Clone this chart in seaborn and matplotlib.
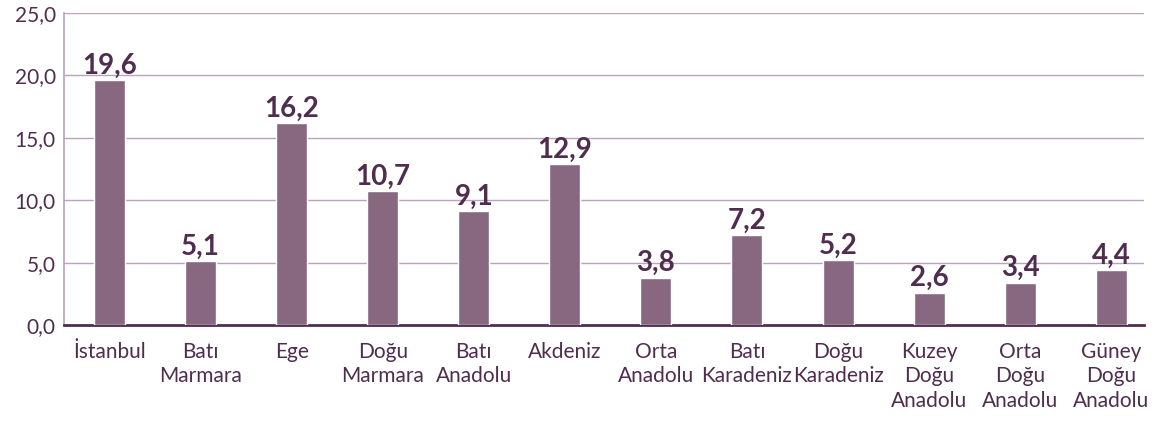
import matplotlib
matplotlib.use("Agg")
import matplotlib.pyplot as plt
import seaborn as sns
import pandas as pd

categories = ["İstanbul", "Batı\nMarmara", "Ege", "Doğu\nMarmara", "Batı\nAnadolu", "Akdeniz",
              "Orta\nAnadolu", "Batı\nKaradeniz", "Doğu\nKaradeniz", "Kuzey\nDoğu\nAnadolu",
              "Orta\nDoğu\nAnadolu", "Güney\nDoğu\nAnadolu"]
values = [19.6, 5.1, 16.2, 10.7, 9.1, 12.9, 3.8, 7.2, 5.2, 2.6, 3.4, 4.4]
yticks = [0, 5, 10, 15, 20, 25]

bar_color = "#876880"
text_color = "#4f2d4f"
grid_color = "#b9a3b9"

sns.set_theme(style="white")
plt.rcParams["font.family"] = ["Lato", "DejaVu Sans"]

df = pd.DataFrame({"cat": categories, "val": values})

fig = plt.figure(figsize=(11.64, 4.21), dpi=100)
W, H = 1164, 421
ax = fig.add_axes([64 / W, (H - 325) / H, (1144 - 64) / W, 312 / H])

sns.barplot(data=df, x="cat", y="val", color=bar_color, width=0.34, ax=ax, saturation=1, zorder=3)

ax.set_xlim(-0.5, 11.36)
ax.set_ylim(0, 25)
ax.set_yticks(yticks)
ax.set_yticklabels([f"{v:.1f}".replace(".", ",") for v in yticks], fontsize=15,
                   color=text_color)
ax.set_xticks(range(len(categories)))
ax.set_xticklabels(categories, fontsize=15, color=text_color, linespacing=1.3)
ax.set_xlabel("")
ax.set_ylabel("")
ax.tick_params(axis="both", length=0)
ax.tick_params(axis="y", pad=6)
ax.tick_params(axis="x", pad=12)

for y in yticks[1:]:
    ax.axhline(y, color=grid_color, lw=1, zorder=1)

for s in ["top", "right"]:
    ax.spines[s].set_visible(False)
ax.spines["left"].set_color(grid_color)
ax.spines["left"].set_linewidth(1.2)
ax.spines["bottom"].set_color(text_color)
ax.spines["bottom"].set_linewidth(2)

for i, v in enumerate(values):
    ax.text(i, v + 0.1, f"{v:.1f}".replace(".", ","), ha="center", va="bottom",
            fontsize=20, fontweight="bold", color=text_color)

fig.savefig("out.png", dpi=100)
